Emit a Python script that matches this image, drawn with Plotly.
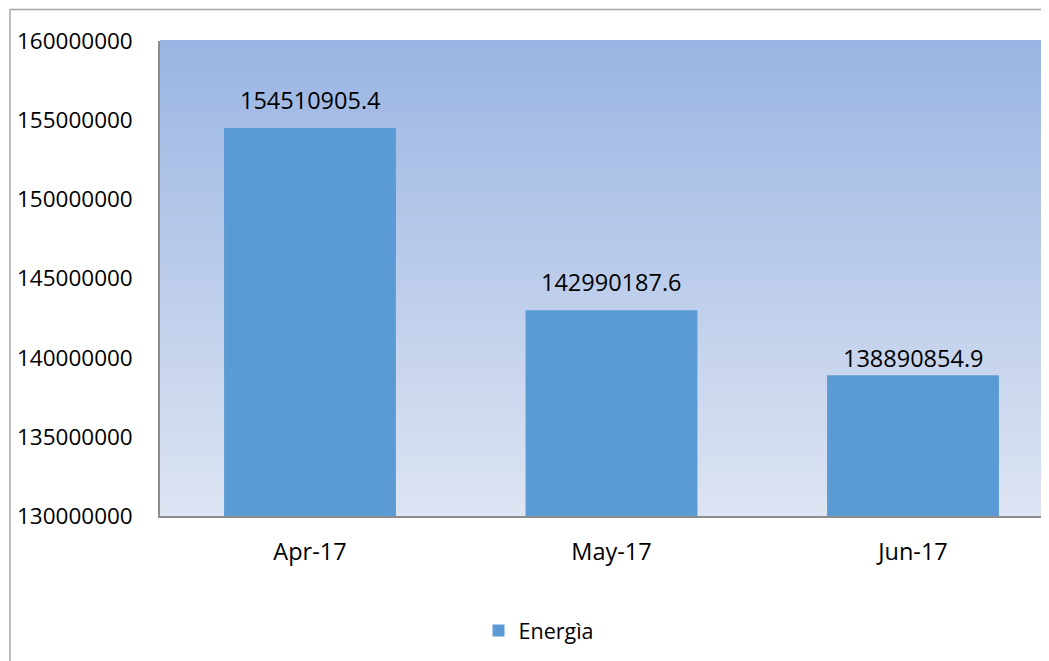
import plotly.graph_objects as go

categories = ["Apr-17", "May-17", "Jun-17"]
values = [154510905.4, 142990187.6, 138890854.9]
label_texts = ["154510905.4", "142990187.6", "138890854.9"]
series_name = "Energìa"
y_ticks = [130000000, 135000000, 140000000, 145000000, 150000000, 155000000, 160000000]

# style settings
label_shifts = [10, 10, -1]
bar_color = "#5B9BD5"
font_family = "Open Sans, Liberation Sans, sans-serif"
top_rgb = (154, 181, 227)
bot_rgb = (221, 228, 242)

# page geometry (body margin 8px)
OFF = 8
PL, PT, PB = 160, 41, 516
FIG_W, FIG_H = 1049, 661
PR = OFF + FIG_W
plot_w = PR - PL
plot_h = PB - PT
cat_px = 301.5
x_start = -0.5 + 0.75 / cat_px

fig = go.Figure()
fig.add_trace(go.Bar(
    x=list(range(len(categories))), y=values, name=series_name,
    marker=dict(color=bar_color, line=dict(width=0)),
    width=0.57, base=0, showlegend=True,
))

for i, (v, t) in enumerate(zip(values, label_texts)):
    fig.add_annotation(x=i, y=v, text=t, showarrow=False, yanchor="bottom",
                       yshift=label_shifts[i], font=dict(size=23.5, color="#000000", family=font_family))

# gradient background bands
n = 120
for k in range(n):
    f = k / (n - 1)
    r = round(top_rgb[0] + (bot_rgb[0] - top_rgb[0]) * f)
    g = round(top_rgb[1] + (bot_rgb[1] - top_rgb[1]) * f)
    b = round(top_rgb[2] + (bot_rgb[2] - top_rgb[2]) * f)
    fig.add_shape(type="rect", xref="x domain", yref="y domain",
                  x0=0, x1=1, y0=1 - (k + 1) / n, y1=1 - k / n + 0.002,
                  fillcolor=f"rgb({r},{g},{b})", line=dict(width=0), layer="below")

# outer chart frame
fig.add_shape(type="rect", xref="paper", yref="paper",
              x0=(10 - PL) / plot_w, x1=1.3, y0=(PB - 9.5) / plot_h, y1=-1,
              line=dict(color="#A6A6A6", width=1.5), fillcolor="rgba(0,0,0,0)", layer="above")

fig.update_layout(
    width=FIG_W, height=FIG_H,
    margin=dict(l=PL - OFF, r=0, t=PT - OFF, b=FIG_H + OFF - PB),
    paper_bgcolor="white", plot_bgcolor="rgba(0,0,0,0)",
    font=dict(family=font_family, size=23.5, color="#000000"),
    showlegend=True,
    legend=dict(orientation="h", x=(539 - PL) / plot_w, y=-(610 - PB) / plot_h,
                xanchor="center", yanchor="top",
                font=dict(size=21.5, family=font_family), itemwidth=30),
)
fig.update_xaxes(
    range=[x_start, x_start + plot_w / cat_px], tickmode="array", tickvals=list(range(len(categories))),
    ticktext=categories, showgrid=False, zeroline=False, showline=True,
    linecolor="#8C8C8C", linewidth=1.5, ticks="", ticklabelstandoff=14,
    tickfont=dict(size=23.5),
)
fig.update_yaxes(
    range=[130000000, 160000000], tickmode="array", tickvals=y_ticks,
    ticktext=[str(t) for t in y_ticks], showgrid=False, zeroline=False,
    showline=True, linecolor="#8C8C8C", linewidth=1.5, ticks="",
    ticklabelstandoff=21, tickfont=dict(size=22.5),
)

fig.write_html("out.html")
